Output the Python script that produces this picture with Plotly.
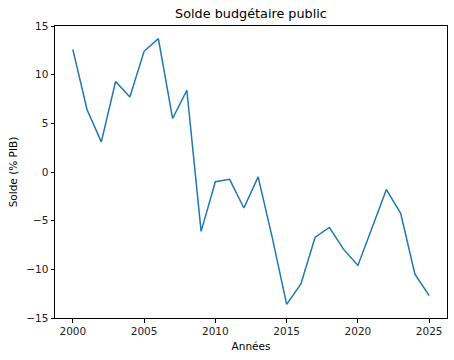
import plotly.graph_objects as go

years = list(range(2000, 2026))
solde = [12.6, 6.4, 3.1, 9.3, 7.7, 12.4, 13.7, 5.5, 8.4, -6.1,
         -1.0, -0.75, -3.7, -0.5, -6.8, -13.6, -11.5, -6.7, -5.7, -7.95,
         -9.6, -5.8, -1.8, -4.25, -10.5, -12.7]
xticks = [2000, 2005, 2010, 2015, 2020, 2025]
yticks = [-15, -10, -5, 0, 5, 10, 15]

fig = go.Figure()
fig.add_trace(go.Scatter(x=years, y=solde, mode="lines",
                         line=dict(color="#1f77b4", width=1.5)))

axis_common = dict(showgrid=False, zeroline=False, showline=True, linecolor="black",
                   linewidth=1, mirror=True, ticks="outside", ticklen=3.5, tickwidth=1,
                   tickcolor="black", tickfont=dict(family="DejaVu Sans", size=10.5, color="#222"))

fig.update_layout(
    width=454, height=360,
    margin=dict(l=55, r=7, t=26, b=42),
    paper_bgcolor="white", plot_bgcolor="white",
    showlegend=False,
    title=dict(text="Solde budgétaire public", x=0.5, xanchor="center",
               y=1 - 14/360, yanchor="middle",
               xref="paper",
               font=dict(family="DejaVu Sans", size=12.8, color="black")),
    xaxis=dict(range=[1998.75, 2026.25], tickmode="array", tickvals=xticks,
               title=dict(text="Années", standoff=6,
                          font=dict(family="DejaVu Sans", size=10.5, color="black")),
               **axis_common),
    yaxis=dict(range=[-15, 15], tickmode="array", tickvals=yticks,
               title=dict(text="Solde (% PIB)", standoff=6,
                          font=dict(family="DejaVu Sans", size=10.5, color="black")),
               **axis_common),
)

fig.write_html("out.html", config={"displayModeBar": False},
               post_script="document.body.style.margin='0';document.body.style.overflow='hidden';")
